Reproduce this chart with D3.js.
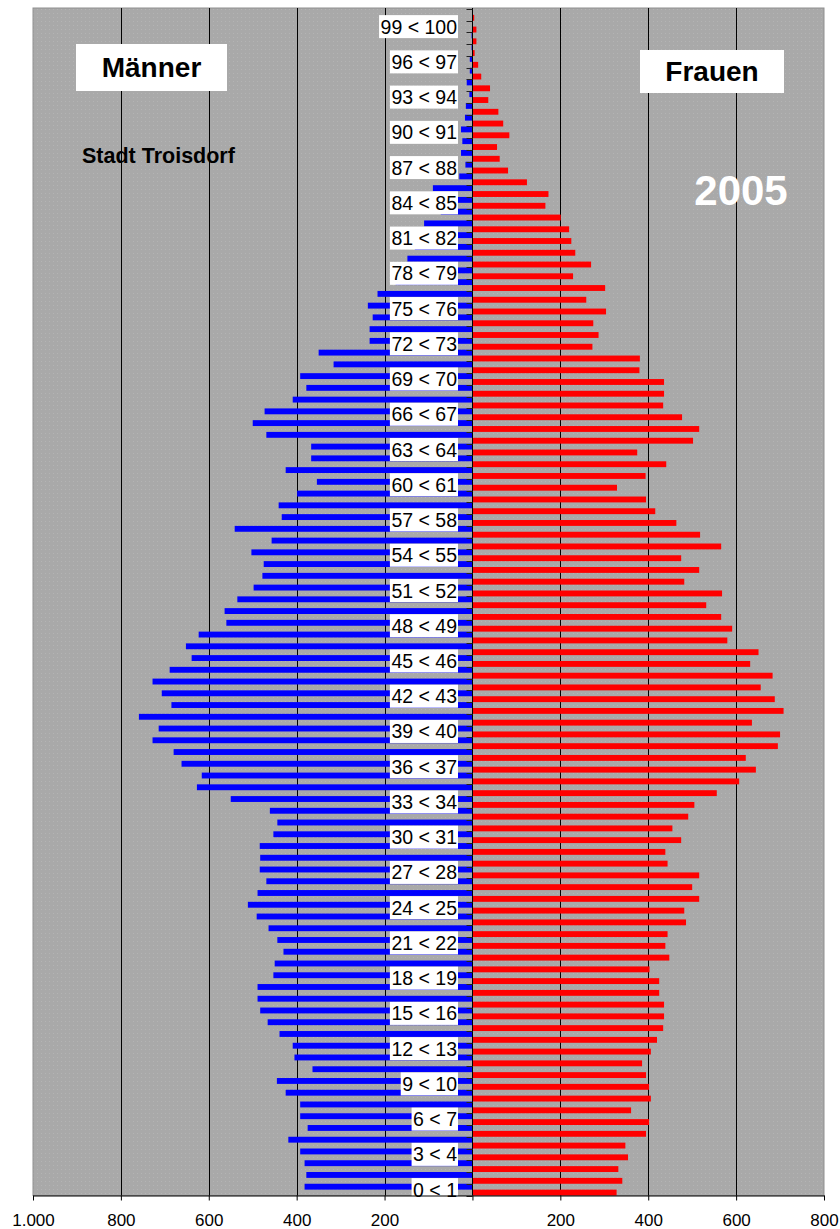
<!DOCTYPE html>
<html>
<head>
<meta charset="utf-8">
<script src="https://cdnjs.cloudflare.com/ajax/libs/d3/7.8.5/d3.min.js"></script>
<style>
  body { margin: 0; background: #fff; }
  svg { display: block; font-family: 'Liberation Sans', Arial, sans-serif; }
</style>
</head>
<body>
<div id="chart"></div>
<script>
// age groups 0 < 1 ... 100 (top row has no label)
var ages = d3.range(0, 101);

// Männer, index = age
var maleValues = [
  382, 378, 382, 392, 419, 375, 392, 392, 425, 445,
  364, 405, 409, 439, 466, 483, 489, 489, 453, 450,
  430, 444, 464, 491, 511, 489, 469, 484, 483, 484,
  453, 444, 461, 550, 627, 616, 662, 680, 728, 714,
  759, 685, 707, 728, 689, 639, 652, 623, 560, 564,
  535, 498, 478, 475, 503, 457, 541, 434, 441, 399,
  354, 425, 367, 367, 469, 500, 473, 409, 378, 392,
  316, 350, 234, 234, 227, 238, 216, 175, 155, 148,
  131, 110, 110, 72, 60, 90, 30, 16, 26, 23,
  26, 17, 15, 7, 13, 6, 6, 2, 2, 1,
  0
];

// Frauen, index = age
var femaleValues = [
  328, 341, 332, 354, 348, 395, 402, 361, 406, 402,
  395, 386, 406, 420, 434, 436, 436, 425, 425, 403,
  448, 439, 444, 486, 482, 516, 500, 516, 444, 439,
  475, 455, 491, 505, 556, 607, 645, 622, 695, 700,
  636, 708, 688, 656, 683, 632, 651, 580, 591, 566,
  532, 568, 482, 516, 475, 566, 518, 464, 416, 395,
  329, 394, 441, 375, 502, 516, 477, 434, 436, 436,
  380, 381, 273, 287, 275, 304, 259, 302, 229, 270,
  234, 225, 220, 201, 166, 173, 124, 81, 62, 56,
  84, 70, 59, 36, 40, 20, 13, 5, 9, 9,
  4
];

// every third age group gets a label
var labelAges = [0, 3, 6, 9, 12, 15, 18, 21, 24, 27, 30, 33, 36, 39, 42, 45, 48,
  51, 54, 57, 60, 63, 66, 69, 72, 75, 78, 81, 84, 87, 90, 93, 96, 99];

var xTicks = [-1000, -800, -600, -400, -200, 0, 200, 400, 600, 800];
var xTickLabels = ['1.000', '800', '600', '400', '200', '', '200', '400', '600', '800'];
var gridTicks = [-800, -600, -400, -200, 200, 400, 600];

var WIDTH = 840, HEIGHT = 1229;
var plotLeft = 33, plotRight = 824, plotTop = 8, plotBottom = 1195.5;

var svg = d3.select('#chart')
  .append('svg')
  .attr('width', WIDTH)
  .attr('height', HEIGHT);

var x = d3.scaleLinear().domain([-1000, 800]).range([plotLeft, plotRight]);
var y = d3.scaleBand().domain(ages.slice().reverse()).range([9, plotBottom]);
var half = y.bandwidth() / 2;

// dotted gray background
var pat = svg.append('defs').append('pattern')
  .attr('id', 'dots')
  .attr('width', 4)
  .attr('height', 4)
  .attr('patternUnits', 'userSpaceOnUse');
pat.append('rect').attr('width', 4).attr('height', 4).attr('fill', '#a9a9a9');
pat.append('rect').attr('x', 1).attr('y', 1).attr('width', 1).attr('height', 1).attr('fill', '#b4b4b4');

svg.append('rect')
  .attr('x', plotLeft)
  .attr('y', plotTop)
  .attr('width', plotRight - plotLeft)
  .attr('height', plotBottom - plotTop)
  .attr('fill', 'url(#dots)')
  .attr('stroke', '#8f8f8f')
  .attr('stroke-width', 1);

svg.append('g')
  .selectAll('line')
  .data(gridTicks)
  .enter()
  .append('line')
  .attr('x1', function(d) { return Math.round(x(d)) + 0.5; })
  .attr('x2', function(d) { return Math.round(x(d)) + 0.5; })
  .attr('y1', plotTop)
  .attr('y2', plotBottom)
  .attr('stroke', '#000')
  .attr('stroke-width', 1);

// men to the left (upper half of the row), women to the right (lower half)
svg.append('g')
  .selectAll('rect')
  .data(ages)
  .enter()
  .append('rect')
  .attr('x', function(d) { return x(-maleValues[d]); })
  .attr('y', function(d) { return y(d); })
  .attr('width', function(d) { return x(0) - x(-maleValues[d]); })
  .attr('height', half)
  .attr('fill', '#0000ff');

svg.append('g')
  .selectAll('rect')
  .data(ages)
  .enter()
  .append('rect')
  .attr('x', x(0))
  .attr('y', function(d) { return y(d) + half; })
  .attr('width', function(d) { return x(femaleValues[d]) - x(0); })
  .attr('height', half)
  .attr('fill', '#ff0000');

// category axis in the middle
var cx = Math.round(x(0)) + 0.5;
svg.append('line')
  .attr('x1', cx).attr('x2', cx)
  .attr('y1', plotTop).attr('y2', plotBottom)
  .attr('stroke', '#000');

var bounds = ages.map(function(a) { return y(a); }).concat([plotBottom]);
svg.append('g')
  .selectAll('line')
  .data(bounds)
  .enter()
  .append('line')
  .attr('x1', cx - 6).attr('x2', cx)
  .attr('y1', function(d) { return Math.round(d) + 0.5; })
  .attr('y2', function(d) { return Math.round(d) + 0.5; })
  .attr('stroke', '#222');

// age labels on white boxes
var labels = svg.append('g')
  .selectAll('g')
  .data(labelAges)
  .enter()
  .append('g');

labels.append('rect').attr('fill', '#fff');
labels.append('text')
  .attr('x', 457)
  .attr('y', function(d) { return y(d) + half + 7; })
  .attr('text-anchor', 'end')
  .attr('font-size', '19.5px')
  .attr('fill', '#000')
  .text(function(d) { return d + ' < ' + (d + 1); });

labels.each(function(d) {
  var g = d3.select(this);
  var w = g.select('text').node().getComputedTextLength();
  g.select('rect')
    .attr('x', 457 - w - 1.5)
    .attr('y', y(d) + half - 11.5)
    .attr('width', w + 2.5)
    .attr('height', 23);
});

// value axis at the bottom
var xAxis = svg.append('g')
  .attr('transform', 'translate(0,' + plotBottom + ')')
  .call(d3.axisBottom(x)
    .tickValues(xTicks)
    .tickFormat(function(d, i) { return xTickLabels[i]; })
    .tickSize(5)
    .tickSizeOuter(0));
xAxis.select('.domain').attr('stroke', '#000');
xAxis.selectAll('.tick line').attr('stroke', '#000');
xAxis.selectAll('.tick text')
  .attr('font-size', '17px')
  .attr('font-family', "'Liberation Sans', Arial, sans-serif")
  .attr('fill', '#000')
  .attr('dy', '0')
  .attr('y', 30);

// titles
svg.append('rect').attr('x', 76).attr('y', 44).attr('width', 151).attr('height', 47).attr('fill', '#fff');
svg.append('text')
  .attr('x', 151.5).attr('y', 77)
  .attr('text-anchor', 'middle')
  .attr('font-size', '28px').attr('font-weight', 'bold')
  .text('Männer');

svg.append('rect').attr('x', 640).attr('y', 50).attr('width', 144).attr('height', 43).attr('fill', '#fff');
svg.append('text')
  .attr('x', 712).attr('y', 81)
  .attr('text-anchor', 'middle')
  .attr('font-size', '28px').attr('font-weight', 'bold')
  .text('Frauen');

svg.append('text')
  .attr('x', 82).attr('y', 163)
  .attr('font-size', '21.5px').attr('font-weight', 'bold')
  .text('Stadt Troisdorf');

svg.append('text')
  .attr('x', 741).attr('y', 205)
  .attr('text-anchor', 'middle')
  .attr('font-size', '42px').attr('font-weight', 'bold')
  .attr('fill', '#fff')
  .text('2005');
</script>
</body>
</html>
